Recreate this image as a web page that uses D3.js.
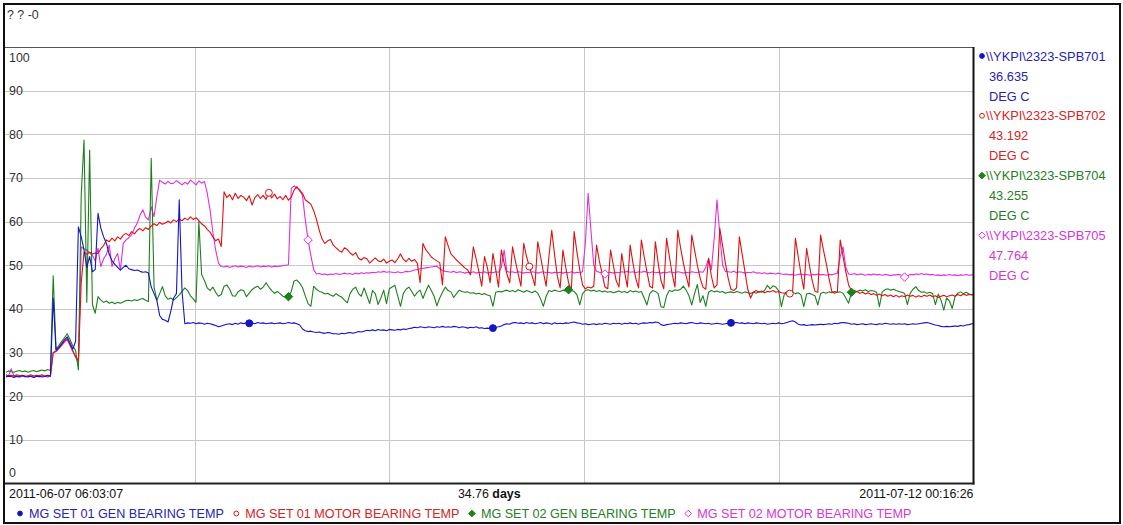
<!DOCTYPE html>
<html>
<head>
<meta charset="utf-8">
<script src="https://cdn.jsdelivr.net/npm/d3@7"></script>
<style>
  body { margin: 0; background: #fff; }
  svg text { font-family: "Liberation Sans", Arial, sans-serif; font-size: 12.4px; }
  svg text.tag { font-size: 12.8px; }
  svg text.desc { font-size: 12.6px; }
</style>
</head>
<body>
<svg id="chart" width="1123" height="525"></svg>
<script>
// ---- trend window ----
const startTime = new Date(2011, 5, 7, 6, 3, 7);
const endTime = new Date(2011, 6, 12, 0, 16, 26);
const sampleDays = 0.1;            // one archived sample every 0.1 day
const spanLabel = "34.76";
const spanUnit = "days";
const startLabel = "2011-06-07 06:03:07";
const endLabel = "2011-07-12 00:16:26";
const titleText = "? ? -0";

const yTicks = [0, 10, 20, 30, 40, 50, 60, 70, 80, 90, 100];

// ---- tags ----
const tagNames = ["\\\\YKPI\\2323-SPB701", "\\\\YKPI\\2323-SPB702", "\\\\YKPI\\2323-SPB704", "\\\\YKPI\\2323-SPB705"];
const tagValues = ["36.635", "43.192", "43.255", "47.764"];
const tagUnits = ["DEG C", "DEG C", "DEG C", "DEG C"];
const tagDescriptions = ["MG SET 01 GEN BEARING TEMP", "MG SET 01 MOTOR BEARING TEMP", "MG SET 02 GEN BEARING TEMP", "MG SET 02 MOTOR BEARING TEMP"];

// ---- samples (deg C) ----
const spb701 = [
  24.5,24.7,24.4,24.6,24.5,24.3,24.6,24.4,24.7,24.5,24.4,24.6,24.3,24.5,24.6,24.4,24.5,24.7,24.6,42.5,
  30.5,31.2,32.0,32.9,33.6,32.2,30.8,32.6,58.8,56.5,53.5,49.5,52.0,48.5,49.0,61.9,58.5,56.5,55.0,52.5,
  51.0,50.2,49.5,48.9,49.5,50.0,49.2,49.0,48.8,48.9,48.6,48.4,48.5,48.2,45.0,43.5,42.0,38.5,37.6,37.4,
  37.0,39.5,42.5,43.5,65.0,44.0,36.6,36.8,36.7,36.9,36.6,36.8,36.7,36.5,36.7,36.6,36.4,36.2,35.9,36.1,
  36.3,36.5,36.6,36.4,36.7,36.5,36.8,36.6,36.9,36.7,36.8,36.6,36.9,36.7,36.8,36.6,36.7,36.8,36.6,36.7,
  36.8,36.6,36.7,36.9,36.7,36.8,36.6,36.3,35.4,35.0,34.8,34.9,34.7,34.6,34.7,34.5,34.4,34.6,34.5,34.3,
  34.3,34.2,34.4,34.3,34.5,34.6,34.4,34.6,34.8,34.7,34.9,35.1,35.0,35.2,35.0,35.3,35.1,35.2,35.0,35.3,
  35.2,35.1,35.3,35.2,35.4,35.3,35.5,35.6,35.8,35.7,35.9,35.8,35.7,35.9,35.8,35.7,35.9,35.8,36.0,35.8,
  35.9,35.8,36.0,35.9,35.7,35.9,35.8,35.6,35.8,35.7,35.9,35.6,35.7,35.5,35.6,35.5,35.6,35.8,35.9,36.1,
  36.4,36.6,36.5,36.8,36.9,36.7,36.8,36.6,36.9,36.7,36.8,36.6,36.7,36.9,36.6,36.8,36.7,36.5,36.8,36.6,
  36.7,36.6,36.8,36.7,36.9,37.0,36.8,36.7,36.5,36.6,36.4,36.5,36.6,36.4,36.6,36.5,36.7,36.6,36.5,36.7,
  36.6,36.7,36.5,36.7,36.6,36.8,36.6,36.7,36.5,36.7,36.8,36.7,36.9,36.8,37.0,36.9,36.4,36.2,36.4,36.5,
  36.6,36.7,36.6,36.8,36.7,36.6,36.8,36.9,36.7,36.6,36.8,36.7,36.6,36.7,36.5,36.6,36.7,36.6,36.5,36.6,
  36.7,36.8,36.8,36.9,36.7,36.8,36.6,36.8,36.7,36.6,36.8,36.7,36.6,36.7,36.5,36.6,36.7,36.6,36.8,36.6,
  36.7,36.9,37.1,37.3,37.0,36.5,36.3,36.4,36.2,36.3,36.4,36.3,36.4,36.5,36.4,36.5,36.6,36.5,36.7,36.6,
  36.8,36.9,36.8,36.7,36.5,36.6,36.4,36.5,36.6,36.4,36.5,36.6,36.5,36.4,36.6,36.5,36.7,36.6,36.5,36.6,
  36.5,36.6,36.5,36.6,36.4,36.5,36.6,36.5,36.6,36.7,36.8,36.9,36.7,36.5,36.3,36.2,36.0,35.9,36.0,35.9,
  36.0,36.1,36.0,36.2,36.1,36.3,36.4,36.6,36.635
];
const spb702 = [
  24.8,24.6,24.9,24.7,24.8,24.6,24.9,24.7,24.8,24.6,24.7,24.9,24.6,24.8,24.7,24.9,24.6,24.8,24.7,30.0,
  30.3,31.0,31.8,32.6,33.2,31.8,30.5,29.0,28.2,46.0,53.0,52.5,53.0,52.6,52.8,52.7,53.8,54.5,55.8,55.4,
  56.2,55.6,56.5,56.0,56.9,57.3,56.8,57.7,57.2,58.0,58.4,57.9,58.6,58.2,59.0,59.5,59.1,59.8,59.4,59.7,
  60.1,59.7,60.4,60.0,60.6,60.2,60.8,60.4,61.1,60.5,60.9,60.2,59.5,59.0,58.2,57.6,56.5,55.6,56.0,54.3,
  66.8,65.5,66.2,65.0,66.5,65.3,66.0,65.6,64.8,65.9,63.8,65.5,66.2,65.3,66.0,65.1,66.6,65.4,66.3,65.2,
  65.8,65.0,66.0,64.9,65.6,67.2,68.0,67.0,66.5,65.0,64.5,64.0,62.5,60.5,58.0,56.0,55.0,55.6,55.9,54.6,
  54.0,53.4,53.0,54.0,53.6,52.8,52.3,52.9,51.6,51.2,51.8,51.5,50.5,51.1,51.7,51.0,50.8,51.4,50.5,50.9,
  51.2,50.6,51.5,52.6,51.4,50.8,51.6,50.9,51.3,50.5,46.0,55.0,53.6,52.8,51.9,51.4,51.0,50.6,45.5,56.5,
  54.5,52.6,51.9,51.2,50.6,50.0,49.4,48.9,47.8,54.2,51.5,48.5,45.2,52.0,49.5,46.0,52.7,49.0,45.0,53.5,
  50.5,48.0,46.0,54.2,51.0,48.0,45.2,55.0,52.0,49.7,47.5,45.3,55.4,52.0,48.5,45.2,52.0,58.0,52.5,47.5,
  44.8,53.5,49.5,46.0,44.3,57.7,53.0,49.0,45.5,44.6,45.0,44.8,45.2,54.6,51.0,48.0,45.0,44.6,53.5,50.0,
  46.5,45.0,52.7,48.5,45.0,54.6,50.5,47.0,44.8,55.8,52.0,48.5,45.2,44.8,55.4,50.5,46.5,44.6,56.2,52.0,
  48.0,45.0,58.0,54.0,50.5,47.5,45.0,56.9,53.5,50.0,47.0,45.0,44.5,51.6,47.5,44.8,45.5,58.5,54.5,50.5,
  47.0,44.5,44.2,44.8,56.5,52.5,48.5,44.5,42.5,43.8,44.2,43.8,44.1,43.7,44.0,43.9,44.2,43.8,44.0,43.7,
  43.6,43.9,43.5,43.8,56.2,52.0,48.0,44.5,53.9,50.0,46.5,44.0,43.8,56.9,53.5,50.5,47.0,44.0,43.6,43.9,
  55.8,52.0,48.5,45.5,44.2,43.8,44.0,43.6,43.8,43.4,43.7,43.3,43.5,43.1,43.4,43.0,43.3,42.9,43.2,42.8,
  43.1,42.7,43.0,42.8,43.2,42.9,43.1,42.7,43.0,42.8,43.1,42.9,43.2,42.8,43.0,42.6,42.9,43.1,42.8,43.0,
  43.2,42.9,43.3,43.0,43.4,43.1,43.3,43.2,43.192
];
const spb704 = [
  25.5,25.7,25.4,25.8,25.6,25.5,25.7,25.9,25.6,25.8,25.5,25.7,25.9,25.6,25.8,26.0,25.8,26.1,25.9,47.6,
  30.8,31.6,32.5,33.4,34.3,33.0,31.5,30.5,26.0,66.0,78.7,41.5,76.4,41.0,39.0,42.8,42.0,41.5,41.8,41.3,
  41.6,41.2,41.5,41.3,41.6,41.9,42.0,41.8,42.1,41.9,42.2,42.4,42.0,41.7,74.5,45.0,42.0,43.5,45.1,43.0,
  42.2,42.5,42.0,42.6,43.2,44.0,44.8,44.2,43.0,42.3,41.5,60.0,47.8,46.5,44.8,44.2,45.0,43.8,42.9,43.3,
  45.2,45.5,44.5,43.0,42.9,43.9,44.4,44.2,42.8,43.6,44.4,44.9,45.2,44.5,45.0,46.0,45.0,44.2,43.6,44.0,
  43.5,42.9,42.7,42.8,44.0,46.4,46.6,45.9,44.9,43.0,41.2,40.6,45.2,44.5,44.0,43.8,43.4,43.6,43.2,42.9,
  43.5,43.0,42.7,42.0,41.4,43.5,44.5,45.0,43.5,42.9,44.8,43.0,41.2,44.2,43.5,41.0,42.5,44.3,41.2,44.6,
  45.0,45.4,43.0,40.6,43.5,44.5,45.0,44.0,42.9,43.8,44.3,42.4,44.0,45.4,44.2,42.9,40.7,42.5,43.8,45.0,
  44.2,43.9,42.6,43.5,44.3,44.0,43.8,43.9,43.6,43.7,43.4,43.6,43.3,43.5,43.2,43.0,40.6,43.8,44.0,43.9,
  44.1,44.3,44.0,44.2,43.9,44.4,44.1,43.8,44.2,44.0,43.7,44.1,43.6,42.3,40.6,42.9,44.2,44.0,44.3,44.1,
  44.0,44.3,44.1,44.4,44.2,44.0,43.2,40.9,43.5,44.2,44.4,44.1,44.3,44.0,44.2,43.9,44.1,43.8,44.0,43.7,
  43.9,44.1,43.8,44.0,43.7,44.2,43.9,44.1,43.8,44.0,42.5,40.9,43.5,44.2,44.0,43.5,40.5,40.3,43.0,44.2,
  44.0,44.4,44.2,44.5,45.2,44.3,43.0,40.9,43.5,45.6,41.5,43.0,40.6,43.8,44.2,43.9,44.1,43.8,44.0,43.6,
  43.8,43.9,43.7,44.0,43.8,43.6,43.9,43.7,43.5,43.8,43.6,44.0,43.8,44.2,45.4,44.6,45.3,45.0,44.2,40.5,
  43.2,43.8,43.4,43.9,43.5,43.7,43.2,40.5,43.4,43.6,43.3,43.0,40.9,43.5,43.8,43.6,43.9,43.7,44.0,43.8,
  43.9,43.6,42.5,41.3,43.8,44.2,44.0,44.3,44.1,44.4,44.0,44.2,44.1,43.8,40.5,43.9,44.4,44.6,44.3,44.5,
  44.2,44.0,43.8,43.5,41.0,43.6,44.5,45.1,44.2,43.8,43.9,43.6,43.8,43.5,41.0,43.4,42.0,39.7,42.5,41.8,
  40.1,42.8,43.6,43.9,43.5,43.8,43.4,43.3,43.255
];
const spb705 = [
  24.6,24.4,24.7,24.5,26.3,24.6,24.4,24.5,24.7,24.4,24.6,24.5,24.3,24.6,24.4,24.7,24.5,24.4,24.6,30.0,
  30.2,30.9,31.6,32.4,33.0,31.6,30.2,29.0,27.6,54.2,53.8,53.5,52.8,52.3,51.0,53.9,49.7,51.5,52.5,54.6,
  49.7,51.5,52.7,48.9,55.0,55.8,56.3,57.0,58.5,59.6,61.5,62.7,61.0,60.4,63.4,61.1,65.7,69.5,69.0,68.6,
  69.2,68.7,68.8,69.4,68.9,68.4,69.0,68.6,69.5,69.0,68.4,69.3,68.8,69.2,66.5,62.7,57.5,53.5,50.5,49.7,
  49.6,49.8,49.5,49.7,49.9,49.6,49.8,49.7,49.5,49.8,49.6,49.7,49.9,49.6,49.8,49.7,49.9,49.6,49.8,49.7,
  49.8,49.9,50.0,50.1,67.6,68.2,67.6,67.4,66.0,60.4,55.8,52.2,49.0,48.0,48.1,47.9,48.0,47.8,48.0,47.9,
  48.1,47.9,48.0,48.2,48.0,48.1,47.9,48.2,48.0,48.3,48.1,48.3,48.2,48.4,48.3,48.5,48.4,48.6,48.4,48.5,
  48.4,48.3,48.5,48.3,48.4,48.6,48.5,48.7,48.9,49.0,49.2,49.3,49.4,49.5,49.6,49.7,49.8,49.2,48.8,48.6,
  48.5,48.4,48.6,48.3,48.5,48.4,48.2,48.4,48.3,48.5,48.2,48.4,48.3,48.5,48.2,48.4,48.3,48.5,48.4,49.5,
  53.5,48.6,48.4,48.5,48.3,48.5,48.4,48.2,48.4,48.3,48.5,48.4,48.2,48.4,48.5,48.3,48.4,48.2,48.4,48.3,
  48.4,48.2,48.4,48.3,48.5,48.2,48.4,48.3,48.5,55.0,66.5,58.0,50.0,48.6,48.4,48.2,48.0,48.3,48.4,48.2,
  48.4,48.3,48.5,48.4,48.6,48.4,48.5,48.3,48.5,48.4,48.6,48.4,48.3,48.5,48.3,48.4,48.2,48.4,48.3,48.5,
  48.4,48.3,48.5,48.4,48.2,48.4,48.3,48.5,48.4,48.3,48.5,48.4,49.5,51.5,49.0,56.0,65.0,57.0,50.0,48.6,
  48.5,48.4,48.6,48.3,48.5,48.4,48.2,48.4,48.3,48.5,48.2,48.3,48.1,48.3,48.0,48.2,48.1,48.0,48.2,48.0,
  47.9,48.0,47.8,47.9,47.7,47.9,48.0,47.8,47.9,47.7,47.9,47.8,48.0,47.8,47.9,47.7,47.9,47.8,48.0,48.2,
  52.0,54.2,49.5,48.0,47.9,48.1,47.8,48.0,47.9,47.7,47.9,47.8,48.0,47.8,47.9,47.7,47.9,47.8,47.6,47.8,
  47.8,47.9,47.7,47.3,47.6,47.9,47.8,48.0,47.9,48.1,47.9,48.0,47.8,47.9,47.7,47.8,47.6,47.8,47.7,47.9,
  47.7,47.8,47.6,47.8,47.7,47.9,47.7,47.8,47.764
];

// sample numbers that carry the trace symbol
const markers701 = [89, 176, 261];
const markers702 = [96, 189, 282];
const markers704 = [103, 203, 304];
const markers705 = [110, 216, 323];

const seriesColors = ["#1414c8", "#e01010", "#1c801c", "#e22ee2"];
const textColors = ["#2424b4", "#d42424", "#258025", "#d636d6"];

// ---- layout ----
const svg = d3.select("#chart");
const W = 1123, H = 525;
const plot = { left: 5, right: 973.5, top: 47, bottom: 483.5 };

const x = d3.scaleTime().domain([startTime, endTime]).range([0, plot.right]);
const y = d3.scaleLinear().domain([0, 100]).range([plot.bottom, plot.top]);

const dayMs = 864e5;
const timeAt = i => new Date(startTime.getTime() + i * sampleDays * dayMs);

// square diamond (a square turned 45 degrees)
const rhombus = {
  draw(ctx, size) {
    const r = Math.sqrt(size / 2);
    ctx.moveTo(0, -r); ctx.lineTo(r, 0); ctx.lineTo(0, r); ctx.lineTo(-r, 0); ctx.closePath();
  }
};

const series = [
  { values: spb701, marks: markers701, symbol: d3.symbolCircle, filled: true },
  { values: spb702, marks: markers702, symbol: d3.symbolCircle, filled: false },
  { values: spb704, marks: markers704, symbol: rhombus, filled: true },
  { values: spb705, marks: markers705, symbol: rhombus, filled: false }
].map((s, k) => Object.assign(s, { color: seriesColors[k], text: textColors[k], name: tagNames[k], value: tagValues[k], unit: tagUnits[k], desc: tagDescriptions[k] }));

svg.append("rect").attr("width", W).attr("height", H).attr("fill", "#fff");

// outer frame
svg.append("rect")
  .attr("x", 4).attr("y", 4).attr("width", W - 7).attr("height", H - 6)
  .attr("fill", "none").attr("stroke", "#111").attr("stroke-width", 2);

svg.append("text").attr("x", 7).attr("y", 19).attr("fill", "#333").text(titleText);

// grid
const grid = svg.append("g").attr("stroke", "#c8c8c8").attr("stroke-width", 1).attr("shape-rendering", "crispEdges");
const span = endTime - startTime;
d3.range(1, 5).forEach(k => {
  const gx = Math.round(x(new Date(startTime.getTime() + span * k / 5))) + 0.5;
  grid.append("line").attr("x1", gx).attr("x2", gx).attr("y1", plot.top).attr("y2", plot.bottom);
});
yTicks.filter(v => v > 0 && v < 100).forEach(v => {
  const gy = Math.round(y(v)) + 0.5;
  grid.append("line").attr("x1", plot.left).attr("x2", plot.right).attr("y1", gy).attr("y2", gy);
});

// value labels inside the plot, kept within its frame
svg.append("g").selectAll("text").data(yTicks).join("text")
  .attr("x", 9)
  .attr("y", v => Math.min(Math.max(y(v), plot.top + 10), plot.bottom - 11) + 4.5)
  .attr("fill", "#333")
  .text(v => v);

// traces
svg.append("clipPath").attr("id", "plotClip").append("rect")
  .attr("x", plot.left + 1).attr("y", plot.top).attr("width", plot.right - plot.left - 1).attr("height", plot.bottom - plot.top);

const traces = svg.append("g").attr("clip-path", "url(#plotClip)");
const line = d3.line().x((v, i) => x(timeAt(i))).y(v => y(v));

// last tag drawn first so SPB701 ends up on top
series.slice().reverse().forEach(s => {
  traces.append("path")
    .attr("d", line(s.values))
    .attr("fill", "none")
    .attr("stroke", s.color)
    .attr("stroke-width", 1.1)
    .attr("stroke-linejoin", "round");
});
series.slice().reverse().forEach(s => {
  traces.selectAll(null).data(s.marks).join("path")
    .attr("transform", i => `translate(${x(timeAt(i))},${y(s.values[i])})`)
    .attr("d", d3.symbol(s.symbol, s.symbol === rhombus ? 36 : 38))
    .attr("fill", s.filled ? s.color : "#fff")
    .attr("stroke", s.color)
    .attr("stroke-width", 1);
});

// plot frame
svg.append("line").attr("x1", plot.left).attr("x2", plot.right).attr("y1", plot.top + 0.5).attr("y2", plot.top + 0.5)
  .attr("stroke", "#555").attr("stroke-width", 1);
svg.append("line").attr("x1", plot.right).attr("x2", plot.right).attr("y1", plot.top).attr("y2", plot.bottom + 1)
  .attr("stroke", "#111").attr("stroke-width", 2);
svg.append("line").attr("x1", plot.left).attr("x2", plot.right + 1).attr("y1", plot.bottom).attr("y2", plot.bottom)
  .attr("stroke", "#222").attr("stroke-width", 2);

// time axis captions
svg.append("text").attr("x", 9).attr("y", 497.5).attr("fill", "#111").text(startLabel);
svg.append("text").attr("x", plot.right).attr("y", 497.5).attr("text-anchor", "end").attr("fill", "#111").text(endLabel);
const mid = svg.append("text").attr("x", (plot.left + plot.right) / 2).attr("y", 497.5).attr("text-anchor", "middle").attr("fill", "#111");
mid.append("tspan").text(spanLabel + " ");
mid.append("tspan").attr("font-weight", "bold").text(spanUnit);

// tag panel on the right
const panel = svg.append("g");
series.forEach((s, k) => {
  const y0 = 56 + k * 59.8;
  panel.append("path")
    .attr("transform", `translate(982,${y0})`)
    .attr("d", d3.symbol(s.symbol, s.symbol === rhombus ? 22 : 18))
    .attr("fill", s.filled ? s.color : "#fff").attr("stroke", s.color).attr("stroke-width", 1);
  panel.append("text").attr("class", "tag").attr("x", 986).attr("y", y0 + 4.6).attr("fill", s.text).text(s.name);
  panel.append("text").attr("class", "tag").attr("x", 989).attr("y", y0 + 24.6).attr("fill", s.text).text(s.value);
  panel.append("text").attr("class", "tag").attr("x", 989).attr("y", y0 + 44.6).attr("fill", s.text).text(s.unit);
});

// description legend along the bottom
const legend = svg.append("g");
let lx = 20;
series.forEach(s => {
  legend.append("path")
    .attr("transform", `translate(${lx},513.5)`)
    .attr("d", d3.symbol(s.symbol, s.symbol === rhombus ? 22 : 18))
    .attr("fill", s.filled ? s.color : "#fff").attr("stroke", s.color).attr("stroke-width", 1);
  const t = legend.append("text").attr("class", "desc").attr("x", lx + 9).attr("y", 518).attr("fill", s.text).text(s.desc);
  lx += 9 + t.node().getComputedTextLength() + 12.5;
});
</script>
</body>
</html>
